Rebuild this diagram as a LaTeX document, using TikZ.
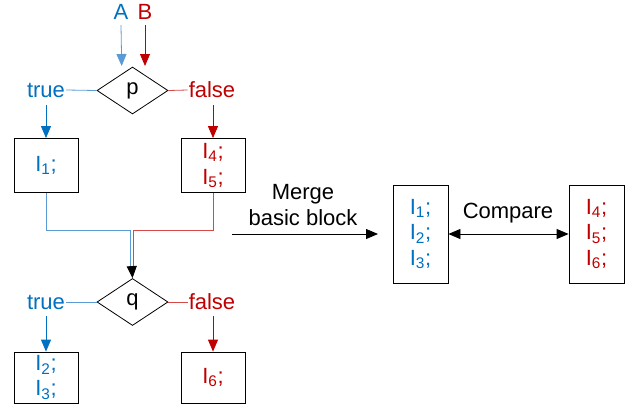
\documentclass[tikz,border=0pt]{standalone}
\usepackage{fontspec}
\setmainfont{Liberation Sans}
\usetikzlibrary{shapes.geometric,arrows.meta}
\definecolor{tblue}{HTML}{0070C0}
\definecolor{lblue}{HTML}{5B9BD5}
\definecolor{tred}{HTML}{C00000}
\definecolor{lred}{HTML}{D44848}
\tikzset{
  every node/.style={font=\fontsize{22}{25.5}\selectfont},
  dia/.style={draw, shape=diamond, inner sep=0pt, minimum width=71pt, minimum height=47pt, line width=0.8pt},
  blk/.style={draw, line width=0.8pt, align=center, inner sep=0pt},
  lbl/.style={inner sep=1pt},
  arr/.style={line width=0.8pt, -{Triangle[length=12pt,width=10pt]}},
  darr/.style={line width=0.8pt, {Triangle[length=12pt,width=10pt]}-{Triangle[length=12pt,width=10pt]}},
  conn/.style={line width=0.8pt}
}
\begin{document}
\begin{tikzpicture}[x=1pt,y=-1pt]
\useasboundingbox (0,0) rectangle (638,408);
% top decision
\node[lbl, text=tblue] (A) at (121,12) {A};
\node[lbl, text=tred] (B) at (145,12) {B};
\node[dia] (p) at (132.5,90.5) {p};
\coordinate (pa) at (121.7,67);
\coordinate (pb) at (145,67);
\draw[arr, lblue] (A.south |- 0,25) -- (pa |- 0,66);
\draw[arr, tred] (B.south |- 0,25) -- (pb |- 0,66);
\node[lbl, text=tblue] (t1) at (46,90) {true};
\node[lbl, text=tred] (f1) at (212,90) {false};
\draw[conn, lblue] (p.west) -- (t1.east);
\draw[conn, lred] (p.east) -- (f1.west);
% blocks after p
\node[blk, minimum width=64pt, minimum height=54pt, text=tblue] (I1) at (46,165.5) {I\textsubscript{1};};
\node[blk, minimum width=64pt, minimum height=54pt, text=tred] (I45) at (213,165.5) {I\textsubscript{4};\\I\textsubscript{5};};
\draw[arr, tblue] (46,105) -- (I1.north);
\draw[arr, tred] (213,105) -- (I45.north);
% merge into q
\node[dia] (q) at (132.5,302) {q};
\coordinate (jb) at (130.7,230);
\coordinate (jr) at (132.9,230);
\draw[conn, lblue] (I1.south) -- (I1.south |- jb) -- (jb) -- ++(0,38);
\draw[conn, lred] (I45.south) -- (I45.south |- jr) -- (jr) -- ++(0,38);
\draw[arr, black] (131.8,266) -- (q.north);
\node[lbl, text=tblue] (t2) at (46,302) {true};
\node[lbl, text=tred] (f2) at (212,302) {false};
\draw[conn, lblue] (q.west) -- (t2.east);
\draw[conn, lred] (q.east) -- (f2.west);
\node[blk, minimum width=64pt, minimum height=51pt, text=tblue] (I23) at (46,377.5) {I\textsubscript{2};\\I\textsubscript{3};};
\node[blk, minimum width=64pt, minimum height=51pt, text=tred] (I6) at (213,377.5) {I\textsubscript{6};};
\draw[arr, tblue] (46,316) -- (I23.north);
\draw[arr, tred] (213,316) -- (I6.north);
% merged view
\node[lbl, align=center] (merge) at (303,205) {Merge\\basic block};
\coordinate (ms) at (232,234);
\coordinate (me) at (378,234);
\draw[arr] (ms) -- (me);
\node[blk, minimum width=55pt, minimum height=98pt, text=tblue] (L) at (420.5,234) {I\textsubscript{1};\\I\textsubscript{2};\\I\textsubscript{3};};
\node[blk, minimum width=55pt, minimum height=98pt, text=tred] (R) at (596.5,234) {I\textsubscript{4};\\I\textsubscript{5};\\I\textsubscript{6};};
\node[lbl] (cmp) at (508,213) {Compare};
\draw[darr] (L.east) -- (R.west);
\end{tikzpicture}
\end{document}
